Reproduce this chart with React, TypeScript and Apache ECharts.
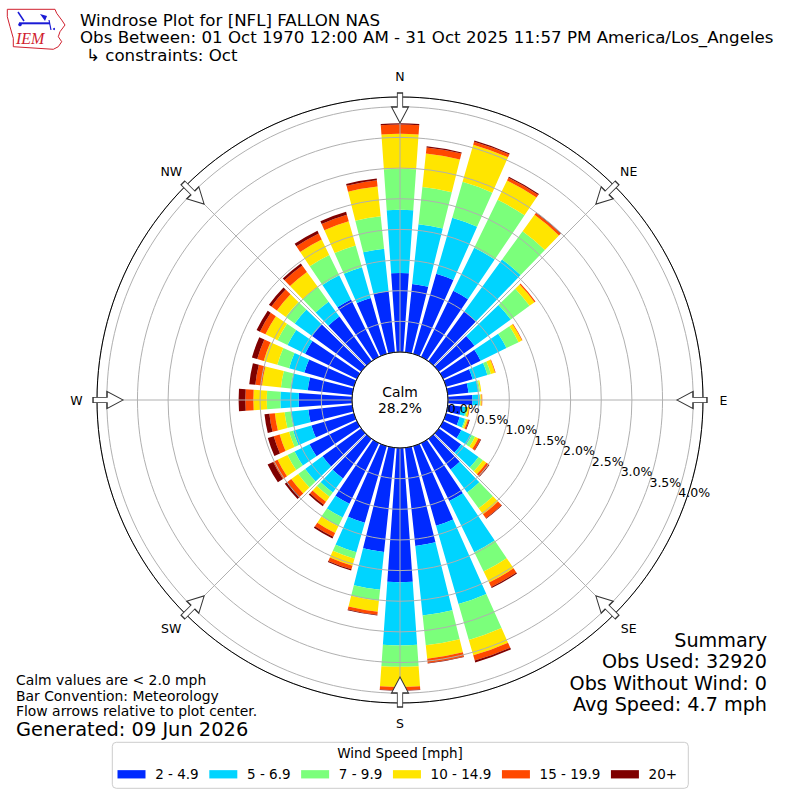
import React, { useEffect, useRef } from "react";
import * as echarts from "echarts";

// ---------------- data ----------------
const directions = [0, 10, 20, 30, 40, 50, 60, 70, 80, 90, 100, 110, 120, 130, 140, 150, 160, 170,
  180, 190, 200, 210, 220, 230, 240, 250, 260, 270, 280, 290, 300, 310, 320, 330, 340, 350];

const speedBins = ["2 - 4.9", "5 - 6.9", "7 - 9.9", "10 - 14.9", "15 - 19.9", "20+"];

// percent of all observations, per direction (0..350 step 10), per speed bin
const bin2to5 = [1.29, 1.12, 1.36, 1.20, 1.00, 0.72, 0.68, 0.45, 0.34, 0.40, 0.22, 0.23, 0.33, 0.45, 0.62, 1.05, 1.35, 1.61,
  2.19, 1.71, 1.30, 1.10, 0.80, 0.78, 0.86, 0.72, 0.72, 0.87, 0.73, 0.84, 0.94, 0.99, 0.90, 1.04, 0.95, 1.00];
const bin5to7 = [1.03, 0.98, 0.95, 0.78, 1.05, 0.73, 0.47, 0.25, 0.17, 0.12, 0.08, 0.09, 0.19, 0.35, 0.46, 0.93, 1.33, 1.14,
  1.03, 0.62, 0.50, 0.25, 0.28, 0.35, 0.27, 0.31, 0.29, 0.30, 0.28, 0.26, 0.32, 0.35, 0.30, 0.44, 0.52, 0.70];
const bin7to10 = [0.67, 0.61, 0.61, 0.87, 0.57, 0.38, 0.22, 0.06, 0.02, 0.01, 0.02, 0.02, 0.06, 0.09, 0.32, 0.35, 0.61, 0.49,
  0.35, 0.18, 0.11, 0.16, 0.09, 0.14, 0.13, 0.07, 0.10, 0.22, 0.16, 0.20, 0.18, 0.18, 0.30, 0.37, 0.37, 0.53];
const bin10to15 = [0.57, 0.55, 0.63, 0.35, 0.33, 0.10, 0.06, 0.07, 0.02, 0.02, 0.03, 0.03, 0.06, 0.07, 0.12, 0.20, 0.26, 0.22,
  0.33, 0.18, 0.12, 0.12, 0.10, 0.14, 0.18, 0.16, 0.16, 0.22, 0.31, 0.23, 0.22, 0.18, 0.30, 0.28, 0.41, 0.49];
const bin15to20 = [0.15, 0.10, 0.05, 0.05, 0.04, 0.02, 0.01, 0.01, 0.00, 0.01, 0.01, 0.02, 0.04, 0.05, 0.08, 0.08, 0.09, 0.07,
  0.05, 0.05, 0.06, 0.07, 0.06, 0.08, 0.08, 0.10, 0.09, 0.13, 0.11, 0.11, 0.10, 0.11, 0.13, 0.11, 0.11, 0.10];
const bin20plus = [0.02, 0.02, 0.02, 0.02, 0.01, 0.00, 0.00, 0.00, 0.00, 0.00, 0.00, 0.01, 0.01, 0.01, 0.01, 0.02, 0.03, 0.01,
  0.01, 0.01, 0.02, 0.03, 0.03, 0.05, 0.10, 0.10, 0.08, 0.11, 0.10, 0.09, 0.06, 0.05, 0.04, 0.05, 0.05, 0.03];

const binValues = [bin2to5, bin5to7, bin7to10, bin10to15, bin15to20, bin20plus];
const binColors = ["#002aff", "#00d4ff", "#7bff7b", "#ffe500", "#ff4900", "#7f0000"];

const radialMax = 4.16;
const radialStep = 0.5;
const compassLabels = ["N", "NE", "E", "SE", "S", "SW", "W", "NW"];
const compassAngles = [0, 45, 90, 135, 180, 225, 270, 315];
const arrowRadius = 3.98;

const calmLabel = "Calm";
const calmPercent = "28.2%";
const titleLines = [
  "Windrose Plot for [NFL] FALLON NAS",
  "Obs Between: 01 Oct 1970 12:00 AM - 31 Oct 2025 11:57 PM America/Los_Angeles",
  "↳ constraints: Oct",
];
const noteLines = ["Calm values are < 2.0 mph", "Bar Convention: Meteorology", "Flow arrows relative to plot center."];
const generatedLine = "Generated: 09 Jun 2026";
const summaryLines = ["Summary", "Obs Used: 32920", "Obs Without Wind: 0", "Avg Speed: 4.7 mph"];
const legendTitle = "Wind Speed [mph]";

// ---------------- layout ----------------
const CX = 400;
const CY = 400;
const INNER_R = 48;
const OUTER_R = 303;
const COMPASS_R = 323.5;
const FONT = "DejaVu Sans";

const arrowPath = "path://M8.5,0 L17,16 L11.2,16 L11.2,30 L5.8,30 L5.8,16 L0,16 Z";

const iowaOutline = [
  [7.3, 9.3], [55, 9.3], [56.7, 13.3], [61.7, 20], [65, 25], [60, 31.7], [58.3, 36.7],
  [61.7, 41.7], [58.3, 46.7], [53.3, 49.3], [13.3, 46.7], [13.3, 38.3], [10, 26.7], [7.3, 16.7],
];

const isStep = (v: number) => {
  const k = v / radialStep;
  return Math.abs(k - Math.round(k)) < 1e-6;
};

const radialLabelAxis = (polarIndex: number, formatter: (v: number) => string, showMin: boolean) => ({
  polarIndex,
  type: "value",
  min: 0,
  max: radialMax,
  interval: radialStep,
  z: 5,
  axisLine: { show: false },
  axisTick: { show: false },
  splitLine: { show: false },
  axisLabel: {
    show: true,
    showMinLabel: showMin,
    hideOverlap: false,
    margin: 8,
    fontSize: 12.5,
    fontFamily: FONT,
    color: "#000",
    formatter,
  },
});

export default function App() {
  const ref = useRef<HTMLDivElement>(null);

  useEffect(() => {
    document.body.style.margin = "0";
    if (!ref.current) return;
    const chart = echarts.init(ref.current, null, { renderer: "svg" });

    const barSeries = speedBins.map((name, i) => ({
      name,
      type: "bar",
      coordinateSystem: "polar",
      polarIndex: 0,
      stack: "wind",
      barCategoryGap: "20%",
      itemStyle: { color: binColors[i] },
      data: binValues[i],
      z: 2,
    }));

    const arrowSeries = {
      type: "scatter",
      coordinateSystem: "polar",
      polarIndex: 1,
      symbol: arrowPath,
      symbolSize: [17, 30],
      itemStyle: { color: "#ffffff", borderColor: "#333333", borderWidth: 1.1, opacity: 1 },
      z: 6,
      silent: true,
      data: compassAngles.map((a) => ({ value: [arrowRadius, a], symbolRotate: 180 - a })),
    };

    const compassTexts = compassLabels.map((lab, i) => {
      const t = (compassAngles[i] * Math.PI) / 180;
      return {
        type: "text",
        x: CX + COMPASS_R * Math.sin(t),
        y: CY - COMPASS_R * Math.cos(t),
        style: { text: lab, fill: "#000", font: `12.5px "${FONT}"`, align: "center", verticalAlign: "middle" },
      };
    });

    const titleTexts = titleLines.map((t, i) => ({
      type: "text",
      x: i === 2 ? 86 : 80,
      y: 20.3 + i * 17.5,
      style: { text: t, fill: "#000", font: `16.67px "${FONT}"`, align: "left", verticalAlign: "middle" },
    }));

    const noteTexts = noteLines.map((t, i) => ({
      type: "text",
      x: 16,
      y: 680 + i * 15.5,
      style: { text: t, fill: "#000", font: `13.9px "${FONT}"`, align: "left", verticalAlign: "middle" },
    }));

    const summaryTexts = summaryLines.map((t, i) => ({
      type: "text",
      x: 767,
      y: 640 + i * 21.5,
      style: { text: t, fill: "#000", font: `19.2px "${FONT}"`, align: "right", verticalAlign: "middle" },
    }));

    const logo = {
      type: "group",
      children: [
        { type: "polygon", shape: { points: iowaOutline }, style: { fill: "none", stroke: "#d0202e", lineWidth: 1 } },
        { type: "line", shape: { x1: 19, y1: 23.3, x2: 50, y2: 23.3 }, style: { stroke: "#1a1ad6", lineWidth: 2 } },
        { type: "line", shape: { x1: 18, y1: 12, x2: 24, y2: 21 }, style: { stroke: "#1a1ad6", lineWidth: 1.5 } },
        { type: "polygon", shape: { points: [[40, 14], [47, 16], [45, 21]] }, style: { fill: "#1a1ad6" } },
        { type: "line", shape: { x1: 49, y1: 20, x2: 51, y2: 30 }, style: { stroke: "#1a1ad6", lineWidth: 1.2 } },
        { type: "circle", shape: { cx: 20, cy: 24.5, r: 1.8 }, style: { fill: "#1a1ad6" } },
        { type: "circle", shape: { cx: 54, cy: 29, r: 1 }, style: { fill: "#1a1ad6" } },
        {
          type: "text",
          x: 16,
          y: 38,
          style: { text: "IEM", fill: "#d0202e", font: 'italic 16px "Liberation Serif"', align: "left", verticalAlign: "middle" },
        },
      ],
    };

    const option = {
      animation: false,
      textStyle: { fontFamily: FONT },
      polar: [
        { center: [CX, CY], radius: [INNER_R, OUTER_R] },
        { center: [CX, CY], radius: [INNER_R, OUTER_R] },
        { center: [CX, CY], radius: [INNER_R, OUTER_R] },
        { center: [CX, CY], radius: [INNER_R, OUTER_R] },
      ],
      angleAxis: [
        {
          polarIndex: 0,
          type: "category",
          data: directions.map(String),
          startAngle: 95,
          clockwise: true,
          show: false,
        },
        {
          polarIndex: 1,
          type: "value",
          min: 0,
          max: 360,
          interval: 45,
          startAngle: 90,
          clockwise: true,
          z: 4,
          axisLine: { show: true, lineStyle: { color: "#000", width: 1 } },
          axisTick: { show: false },
          axisLabel: { show: false },
          splitLine: { show: true, lineStyle: { color: "#b0b0b0", width: 1 } },
        },
        { polarIndex: 2, type: "value", min: 0, max: 360, startAngle: -20, clockwise: true, show: false },
        { polarIndex: 3, type: "value", min: 0, max: 360, startAngle: -20, clockwise: true, show: false },
      ],
      radiusAxis: [
        { polarIndex: 0, type: "value", min: 0, max: radialMax, show: false },
        {
          polarIndex: 1,
          type: "value",
          min: 0,
          max: radialMax,
          interval: radialStep,
          z: 3,
          axisLine: { show: false },
          axisTick: { show: false },
          axisLabel: { show: false },
          splitLine: { show: true, lineStyle: { color: "#b0b0b0", width: 1 } },
        },
        // all ring labels except the innermost one
        radialLabelAxis(2, (v: number) => (v > 1e-9 && isStep(v) ? v.toFixed(1) + "%" : ""), false),
        // innermost "0.0%" label only
        radialLabelAxis(3, (v: number) => (Math.abs(v) < 1e-9 ? v.toFixed(1) + "%" : ""), true),
      ],
      legend: {
        data: speedBins,
        left: 117.5,
        top: 767.3,
        orient: "horizontal",
        icon: "rect",
        itemWidth: 28,
        itemHeight: 8.3,
        itemGap: 10.6,
        padding: 0,
        selectedMode: false,
        textStyle: { fontSize: 13.5, fontFamily: FONT, color: "#000", lineHeight: 14, padding: [0, 0, 0, 4.7] },
      },
      series: [...barSeries, arrowSeries],
      graphic: [
        {
          type: "rect",
          shape: { x: 112.3, y: 742.3, width: 576, height: 46, r: 4 },
          style: { fill: "#ffffff", stroke: "#cccccc", lineWidth: 1 },
          z: -1,
        },
        {
          type: "text",
          x: 400,
          y: 753,
          style: { text: legendTitle, fill: "#000", font: `13.5px "${FONT}"`, align: "center", verticalAlign: "middle" },
        },
        {
          type: "text",
          x: CX,
          y: 391.5,
          z: 10,
          style: { text: calmLabel, fill: "#000", font: `13.9px "${FONT}"`, align: "center", verticalAlign: "middle" },
        },
        {
          type: "text",
          x: CX,
          y: 407.5,
          z: 10,
          style: { text: calmPercent, fill: "#000", font: `13.9px "${FONT}"`, align: "center", verticalAlign: "middle" },
        },
        ...compassTexts,
        ...titleTexts,
        ...noteTexts,
        {
          type: "text",
          x: 16,
          y: 729.5,
          style: { text: generatedLine, fill: "#000", font: `19.4px "${FONT}"`, align: "left", verticalAlign: "middle" },
        },
        ...summaryTexts,
        logo,
      ],
    };

    chart.setOption(option as any);
    return () => chart.dispose();
  }, []);

  return <div ref={ref} style={{ width: 800, height: 800 }} />;
}
